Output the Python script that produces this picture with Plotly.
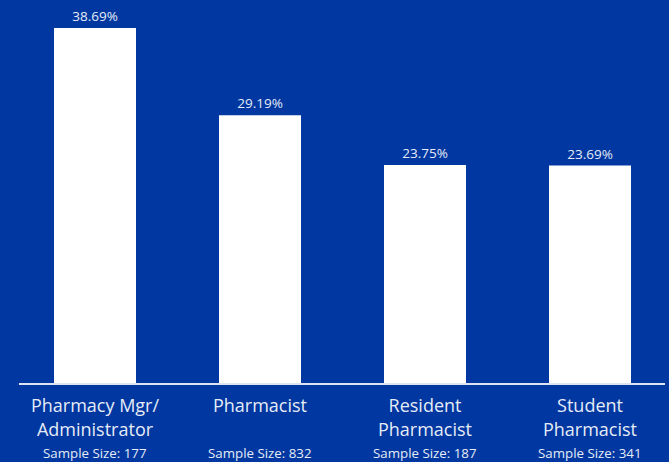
import plotly.graph_objects as go

# Role categories, shares and sample sizes
roles = ["Pharmacy Mgr/<br>Administrator", "Pharmacist", "Resident<br>Pharmacist", "Student<br>Pharmacist"]
shares = [38.69, 29.19, 23.75, 23.69]
sample_sizes = [177, 832, 187, 341]

BG = "#0037A0"
TEXT = "#E6ECF7"
FONT = "Open Sans"

fig = go.Figure(
    go.Bar(
        x=list(range(len(roles))),
        y=shares,
        marker=dict(color="white", line=dict(width=0)),
        text=[f"{v:.2f}%" for v in shares],
        textposition="outside",
        textfont=dict(family=FONT, size=13.5, color=TEXT),
        cliponaxis=False,
        width=0.497,
    )
)

for i, n in enumerate(sample_sizes):
    fig.add_annotation(
        x=i, y=0, xref="x", yref="paper",
        text=f"Sample Size: {n}",
        showarrow=False,
        yanchor="middle",
        yshift=-70,
        font=dict(family=FONT, size=13.3, color=TEXT),
    )

fig.update_layout(
    width=669, height=462,
    margin=dict(l=19, r=4, t=0, b=79),
    paper_bgcolor=BG, plot_bgcolor=BG,
    showlegend=False,
    uniformtext=dict(minsize=8),
    xaxis=dict(
        range=[-0.4606, 3.4545],
        tickmode="array",
        tickvals=list(range(len(roles))),
        ticktext=roles,
        tickfont=dict(family=FONT, size=18, color=TEXT),
        ticklabelstandoff=6,
        showline=True, linecolor="#DDE3F0", linewidth=1.5,
        showgrid=False, zeroline=False, ticks="",
    ),
    yaxis=dict(range=[0, 41.74], visible=False, showgrid=False, zeroline=False),
)

fig.write_html("out.html")
